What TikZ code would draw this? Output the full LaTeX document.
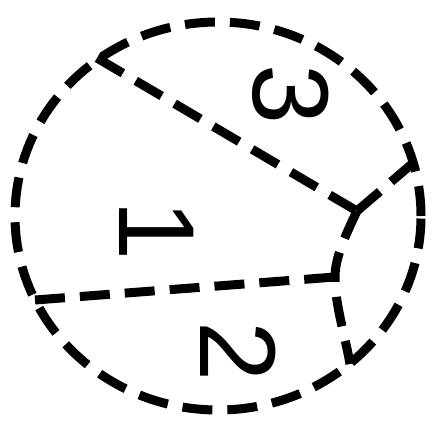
\documentclass[tikz,border=0pt]{standalone}
\usepackage{fontspec}
\setmainfont{Liberation Sans}
\begin{document}
\begin{tikzpicture}[x=1pt,y=-1pt,
  dline/.style={line width=9pt, dash pattern=on 30pt off 15pt, black},
  digit/.style={font=\fontsize{108}{108}\selectfont, inner sep=0pt, rotate=-90}]
\useasboundingbox (0,0) rectangle (446,439);
\coordinate (O) at (218,216);
\coordinate (tl) at (97,58);
\coordinate (J) at (357,211);
\coordinate (rt) at (413,163);
\coordinate (L) at (35,300);
\coordinate (M) at (335,277);
\coordinate (B) at (350,364);
\draw[dline] (O) ellipse [x radius=203pt, y radius=194pt];
\draw[dline] (tl) -- (J);
\draw[dline] (J) -- (rt);
\draw[dline] (L) -- (M);
\draw[dline] (J) .. controls (343,240) and (335,260) .. (M)
  .. controls (335,305) and (345,335) .. (B);
\node[digit] (n3) at (291,95) {3};
\node[digit] (n1) at (157,231) {1};
\node[digit] (n2) at (238,352) {2};
\end{tikzpicture}
\end{document}
